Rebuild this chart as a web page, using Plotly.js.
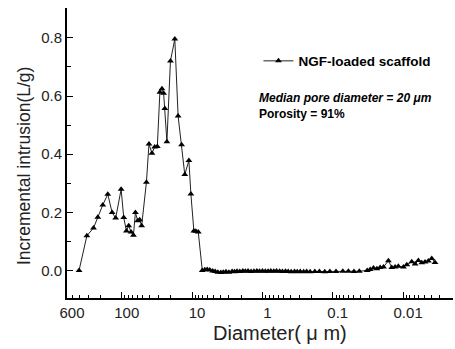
<!DOCTYPE html>
<html>
<head>
<meta charset="utf-8">
<script src="https://cdn.plot.ly/plotly-3.0.1.min.js"></script>
<style>html,body{margin:0;padding:0;background:#fff;}#chart{width:455px;height:349px;}</style>
</head>
<body>
<div id="chart"></div>
<script>
// Pore diameter (µm) and incremental intrusion (L/g)
const diameterPeak = [404, 313, 252, 219, 186, 158, 137, 122, 102, 93.7, 85.8, 79.6, 73.8, 68.2, 63.9, 59.3, 55.6, 52.1, 44.6, 41.0, 37.2, 34.0, 31.2, 28.7, 26.8, 25.4, 24.4, 22.8, 20.3, 17.6, 15.8, 14.1, 12.7, 11.1, 10.4, 9.43, 8.83, 8.17, 7.16];
const intrusionPeak = [0.0, 0.119, 0.146, 0.183, 0.225, 0.262, 0.199, 0.180, 0.279, 0.182, 0.136, 0.154, 0.132, 0.121, 0.199, 0.171, 0.174, 0.154, 0.303, 0.435, 0.403, 0.425, 0.426, 0.613, 0.625, 0.610, 0.557, 0.443, 0.721, 0.796, 0.531, 0.432, 0.330, 0.378, 0.263, 0.136, 0.135, 0.132, 0.0];

const diameterFlat = [6.6, 6.1, 5.6, 5.1, 4.7, 4.3, 3.9, 3.6, 3.3, 3.0, 2.7, 2.5, 2.3, 2.1, 1.9, 1.75, 1.6, 1.45, 1.32, 1.2, 1.1, 1.0, 0.91, 0.83, 0.76, 0.69, 0.63, 0.57, 0.52, 0.47, 0.43, 0.39, 0.35, 0.32, 0.29, 0.26, 0.235, 0.21, 0.18, 0.155, 0.13, 0.11, 0.09, 0.072, 0.06, 0.05, 0.042];
const intrusionFlat = [0.002, 0.003, 0.001, -0.002, -0.004, -0.006, -0.007, -0.006, -0.005, -0.006, -0.004, -0.005, -0.003, -0.004, -0.002, -0.003, -0.002, -0.004, -0.003, -0.002, -0.003, -0.002, -0.003, -0.003, -0.002, -0.003, -0.002, -0.003, -0.004, -0.003, -0.004, -0.005, -0.004, -0.005, -0.004, -0.005, -0.004, -0.005, -0.004, -0.004, -0.005, -0.004, -0.004, -0.003, -0.003, -0.004, -0.003];

const diameterTail = [0.0324, 0.0294, 0.0264, 0.0236, 0.0212, 0.0190, 0.0162, 0.0145, 0.0130, 0.0117, 0.0099, 0.00887, 0.00754, 0.00676, 0.00607, 0.00543, 0.00488, 0.00438, 0.00392, 0.00352];
const intrusionTail = [0.0, 0.003, 0.008, 0.006, 0.010, 0.012, 0.033, 0.010, 0.012, 0.014, 0.012, 0.019, 0.030, 0.022, 0.034, 0.026, 0.029, 0.032, 0.041, 0.027];

const xTickVals = [600, 100, 10, 1, 0.1, 0.01];
const xTickText = ["600", "100", "10", "1", "0.1", "0.01"];
const yTickVals = [0, 0.2, 0.4, 0.6, 0.8];

const seriesName = "NGF-loaded scaffold";
const noteMedian = "Median pore diameter = 20 μm";
const notePorosity = "Porosity = 91%";
const xTitle = "Diameter( μ m)";
const yTitle = "Incremental intrusion(L/g)";

const xs = diameterPeak.concat(diameterFlat, diameterTail);
const ys = intrusionPeak.concat(intrusionFlat, intrusionTail);

const font = "Arial, 'Liberation Sans', Helvetica, sans-serif";

const trace = {
  x: xs, y: ys, type: 'scatter', mode: 'lines+markers',
  name: '<b>' + seriesName + '</b>',
  line: {color: '#222', width: 1},
  marker: {symbol: 'triangle-up', size: 6, color: '#000'}
};

// paper-coordinate helpers (plot area spans x 67..453 px, y 8..298 px)
const px = v => (v - 67) / 386;
const py = v => (298 - v) / 290;

const layout = {
  width: 455, height: 349,
  margin: {l: 67, r: 2, t: 8, b: 51},
  paper_bgcolor: '#fff', plot_bgcolor: '#fff',
  font: {family: font, color: '#111'},
  showlegend: true,
  legend: {x: 0.496, y: 0.817, xanchor: 'left', yanchor: 'middle',
           font: {size: 13.5, family: font, color: '#000'}, bgcolor: 'rgba(0,0,0,0)',
           itemwidth: 30, tracegroupgap: 0},
  xaxis: {
    type: 'log', range: [Math.log10(600), -2.709],
    tickmode: 'array', tickvals: xTickVals, ticktext: xTickText,
    ticks: 'inside', ticklen: 6, tickwidth: 1, tickcolor: '#000',
    minor: {ticks: 'inside', ticklen: 3, tickwidth: 1, tickcolor: '#000', dtick: 'D1'},
    ticklabelshift: -5,
    showline: true, linecolor: '#000', linewidth: 1.5, mirror: false,
    showgrid: false, zeroline: false,
    tickfont: {size: 15, family: font, color: '#222'}
  },
  yaxis: {
    range: [-0.095, 0.903],
    tickmode: 'array', tickvals: yTickVals, tickformat: '.1f',
    ticks: 'inside', ticklen: 6, tickwidth: 1, tickcolor: '#000',
    minor: {ticks: 'inside', ticklen: 4, tickwidth: 1, tickcolor: '#000', dtick: 0.1},
    showline: true, linecolor: '#000', linewidth: 2,
    showgrid: false, zeroline: false,
    tickfont: {size: 15, family: font, color: '#222'}
  },
  annotations: [
    {xref: 'paper', yref: 'paper', x: px(280), y: py(333), xanchor: 'center', yanchor: 'middle',
     text: xTitle, showarrow: false, font: {size: 20, family: font, color: '#222'}},
    {xref: 'paper', yref: 'paper', x: px(24), y: py(166), xanchor: 'center', yanchor: 'middle',
     text: yTitle, textangle: -90, showarrow: false, font: {size: 17.5, family: font, color: '#222'}},
    {xref: 'paper', yref: 'paper', x: px(257), y: py(98), xanchor: 'left', yanchor: 'middle',
     text: '<b><i>' + noteMedian + '</i></b>', showarrow: false, font: {size: 12, family: font, color: '#000'}},
    {xref: 'paper', yref: 'paper', x: px(257), y: py(114), xanchor: 'left', yanchor: 'middle',
     text: '<b>' + notePorosity + '</b>', showarrow: false, font: {size: 12, family: font, color: '#000'}}
  ]
};

Plotly.newPlot('chart', [trace], layout, {staticPlot: true, displayModeBar: false});
</script>
</body>
</html>
